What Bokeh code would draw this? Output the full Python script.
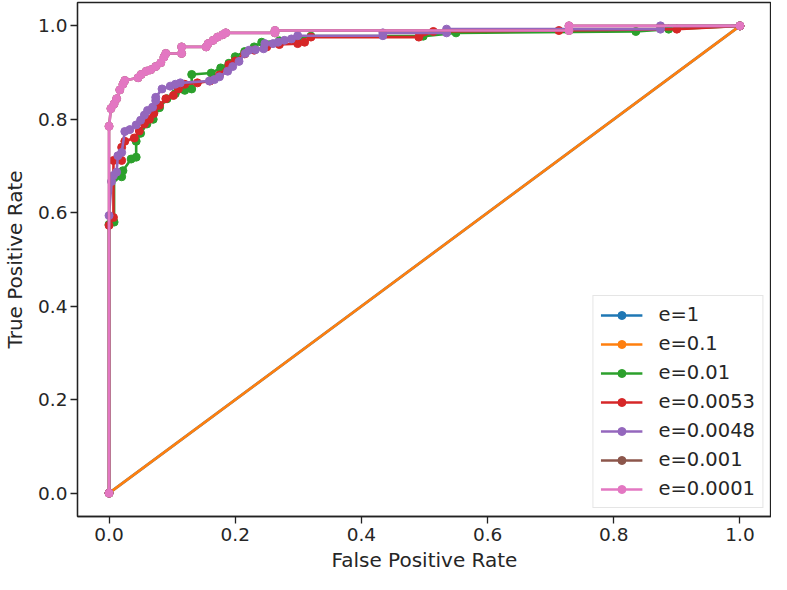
from bokeh.plotting import figure
from bokeh.models import Range1d, FixedTicker, PrintfTickFormatter, Legend, LegendItem
from bokeh.embed import file_html
from bokeh.resources import INLINE

labels = ["e=1", "e=0.1", "e=0.01", "e=0.0053", "e=0.0048", "e=0.001", "e=0.0001"]
colors = ["#1f77b4", "#ff7f0e", "#2ca02c", "#d62728", "#9467bd", "#8c564b", "#e377c2"]

fpr_e1 = [0.0, 1.0]
tpr_e1 = [0.0, 1.0]

fpr_e01 = [0.0, 1.0]
tpr_e01 = [0.0, 1.0]

fpr_e001 = [0.0, 0.0, 0.008, 0.008, 0.020, 0.022, 0.035, 0.043, 0.043, 0.050, 0.060, 0.070,
            0.080, 0.092, 0.105, 0.120, 0.131, 0.131, 0.162, 0.177, 0.190, 0.200, 0.215,
            0.230, 0.242, 0.270, 0.300, 0.320, 0.498, 0.550, 0.835, 0.887, 1.0]
tpr_e001 = [0.0, 0.575, 0.580, 0.675, 0.677, 0.690, 0.715, 0.719, 0.753, 0.770, 0.790, 0.800,
            0.825, 0.844, 0.855, 0.862, 0.865, 0.896, 0.899, 0.910, 0.920, 0.934, 0.945,
            0.955, 0.965, 0.968, 0.972, 0.978, 0.978, 0.985, 0.988, 0.993, 1.0]

fpr_e0053 = [0.0, 0.0, 0.007, 0.007, 0.020, 0.020, 0.025, 0.040, 0.048, 0.056, 0.064, 0.071,
             0.080, 0.090, 0.102, 0.110, 0.120, 0.140, 0.160, 0.175, 0.190, 0.200, 0.215,
             0.230, 0.250, 0.270, 0.299, 0.310, 0.320, 0.491, 0.514, 0.713, 0.900, 1.0]
tpr_e0053 = [0.0, 0.573, 0.590, 0.712, 0.712, 0.740, 0.753, 0.760, 0.775, 0.790, 0.800, 0.8125,
             0.830, 0.844, 0.851, 0.865, 0.875, 0.878, 0.882, 0.895, 0.917, 0.925, 0.940,
             0.948, 0.955, 0.960, 0.962, 0.965, 0.976, 0.976, 0.988, 0.990, 0.993, 1.0]

fpr_e0048 = [0.0, 0.0, 0.004, 0.007, 0.012, 0.014, 0.020, 0.025, 0.033, 0.043, 0.050, 0.056,
             0.061, 0.069, 0.074, 0.074, 0.084, 0.097, 0.105, 0.113, 0.159, 0.167, 0.175,
             0.188, 0.196, 0.206, 0.216, 0.222, 0.232, 0.245, 0.247, 0.260, 0.268, 0.278,
             0.289, 0.299, 0.434, 0.434, 0.535, 0.535, 0.874, 0.874, 1.0]
tpr_e0048 = [0.0, 0.594, 0.667, 0.680, 0.687, 0.722, 0.729, 0.774, 0.778, 0.788, 0.798, 0.809,
             0.819, 0.826, 0.840, 0.847, 0.865, 0.871, 0.875, 0.878, 0.882, 0.885, 0.891,
             0.903, 0.913, 0.924, 0.941, 0.948, 0.949, 0.951, 0.962, 0.962, 0.965, 0.969,
             0.972, 0.979, 0.979, 0.985, 0.985, 0.993, 0.993, 1.0, 1.0]

fpr_e0001 = [0.0, 0.0, 0.003, 0.008, 0.012, 0.017, 0.022, 0.025, 0.046, 0.051, 0.059, 0.066,
             0.074, 0.082, 0.087, 0.090, 0.115, 0.115, 0.154, 0.157, 0.165, 0.172, 0.180,
             0.185, 0.263, 0.263, 0.729, 0.729, 1.0]
tpr_e0001 = [0.0, 0.785, 0.823, 0.833, 0.844, 0.863, 0.875, 0.883, 0.889, 0.896, 0.903, 0.906,
             0.913, 0.921, 0.933, 0.941, 0.941, 0.955, 0.955, 0.962, 0.969, 0.976, 0.981,
             0.985, 0.985, 0.990, 0.990, 1.0, 1.0]

# e=0.001 is hidden beneath e=0.0001 in the reference
fpr_e0001b = list(fpr_e0001)
tpr_e0001b = list(tpr_e0001)

series_fpr = [fpr_e1, fpr_e01, fpr_e001, fpr_e0053, fpr_e0048, fpr_e0001b, fpr_e0001]
series_tpr = [tpr_e1, tpr_e01, tpr_e001, tpr_e0053, tpr_e0048, tpr_e0001b, tpr_e0001]

FONT = "DejaVu Sans"

p = figure(width=771, height=574, output_backend="svg", toolbar_location=None,
           x_range=Range1d(-0.05, 1.05), y_range=Range1d(-0.05, 1.05),
           min_border_left=76, min_border_right=0, min_border_top=2, min_border_bottom=10)
p.grid.visible = False
p.outline_line_color = "#222222"
p.outline_line_width = 1.3
p.background_fill_color = "white"
p.border_fill_color = "white"

p.xaxis.axis_label = "False Positive Rate"
p.yaxis.axis_label = "True Positive Rate"
for ax in (p.xaxis[0], p.yaxis[0]):
    ax.ticker = FixedTicker(ticks=[0.0, 0.2, 0.4, 0.6, 0.8, 1.0])
    ax.formatter = PrintfTickFormatter(format="%.1f")
    ax.minor_tick_line_color = None
    ax.major_tick_in = 0
    ax.major_tick_out = 7
    ax.major_tick_line_width = 1.3
    ax.major_tick_line_color = "#222222"
    ax.axis_line_color = "#222222"
    ax.axis_line_width = 1.3
    ax.major_label_text_font = FONT
    ax.major_label_text_font_size = "18.5px"
    ax.major_label_text_color = "#262626"
    ax.major_label_standoff = 4
    ax.axis_label_text_font = FONT
    ax.axis_label_text_font_size = "20px"
    ax.axis_label_text_font_style = "normal"
    ax.axis_label_text_color = "#262626"
    ax.axis_label_standoff = 4
p.yaxis[0].major_label_standoff = 3
p.yaxis[0].axis_label_standoff = 8

items = []
for lab, col, xs, ys in zip(labels, colors, series_fpr, series_tpr):
    r1 = p.line(xs, ys, line_color=col, line_width=2.6)
    r2 = p.scatter(xs, ys, marker="circle", size=8, fill_color=col, line_color=col)
    items.append(LegendItem(label=lab, renderers=[r1, r2]))

legend = Legend(items=items, location="bottom_right")
legend.label_text_font = FONT
legend.label_text_font_size = "19.5px"
legend.label_text_color = "#262626"
legend.glyph_width = 42
legend.glyph_height = 20
legend.label_height = 20
legend.spacing = 6
legend.padding = 7
legend.margin = 8
legend.label_standoff = 16
legend.border_line_color = "#cccccc"
legend.border_line_width = 1.2
legend.background_fill_color = "white"
legend.background_fill_alpha = 0.8
p.add_layout(legend)

open("out.html", "w").write(file_html(p, INLINE))
